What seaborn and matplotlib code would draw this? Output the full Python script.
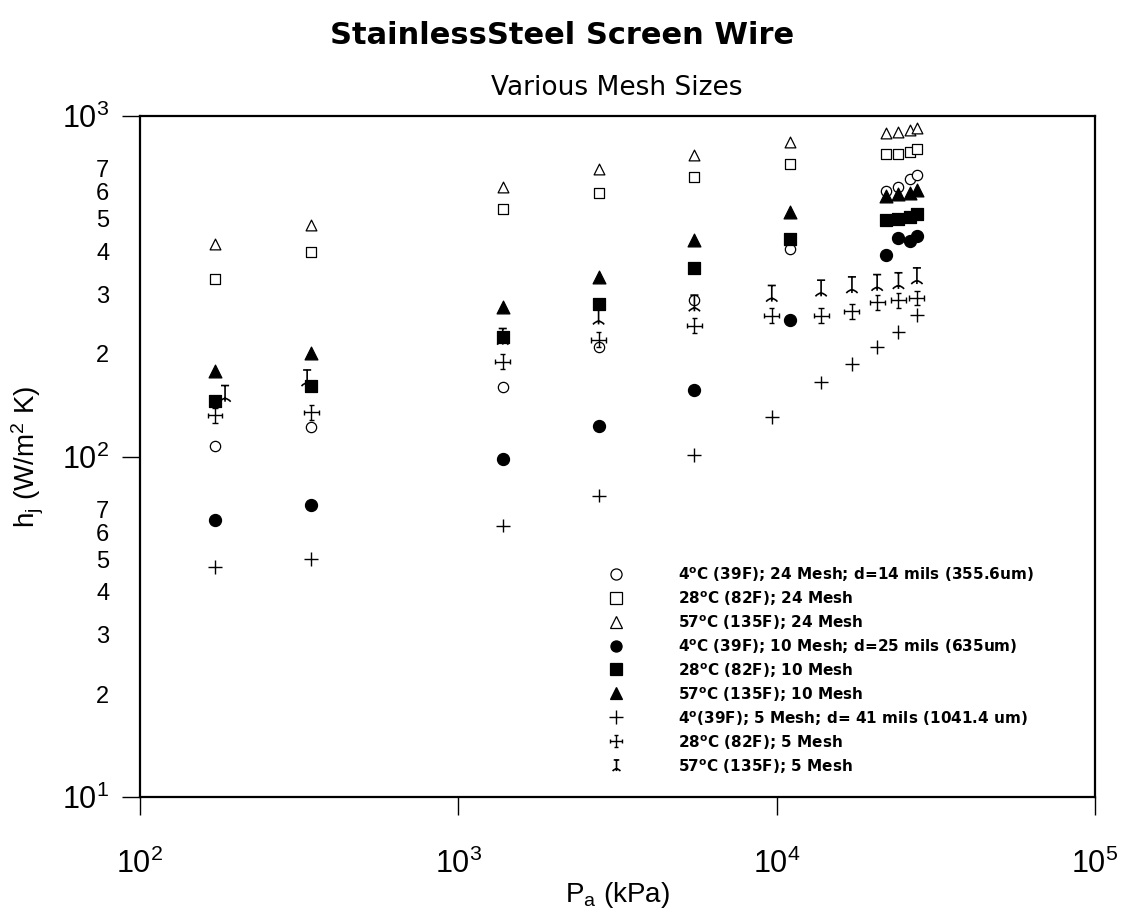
import matplotlib
matplotlib.use("Agg")
import numpy as np
import pandas as pd
import seaborn as sns
import matplotlib.pyplot as plt
from matplotlib.path import Path
from matplotlib.lines import Line2D
from matplotlib.ticker import LogLocator, NullLocator, FuncFormatter, LogFormatterSciNotation

# ---------------- data ----------------
P_24_10 = [172, 345, 1379, 2758, 5516, 11032, 22063, 24132, 26200, 27579]
P_5 = [172, 345, 1379, 2758, 5516, 9653, 13790, 17237, 20684, 24132, 27579]
P_5_57 = [185, 335, 1379, 2758, 5516, 9653, 13790, 17237, 20684, 24132, 27579]

h_24_4C = [107, 122, 160, 210, 288, 407, 603, 618, 653, 671]
h_24_28C = [333, 399, 532, 594, 661, 723, 771, 776, 785, 800]
h_24_57C = [421, 478, 620, 697, 767, 836, 894, 900, 910, 921]
h_10_4C = [65.1, 72.0, 98.3, 123, 157, 252, 391, 439, 428, 443]
h_10_28C = [146, 161, 225, 281, 357, 435, 496, 499, 506, 516]
h_10_57C = [178, 201, 275, 337, 432, 523, 582, 589, 596, 607]
h_5_4C = [47.4, 50.0, 62.7, 76.8, 101, 131, 165, 187, 210, 232, 261]
h_5_28C = [132, 135, 190, 220, 242, 259, 259, 267, 284, 288, 292]
h_5_57C = [153, 170, 225, 258, 282, 301, 312, 319, 324, 328, 339]

labels = [
    r"4$^\mathbf{o}$C (39F); 24 Mesh; d=14 mils (355.6um)",
    r"28$^\mathbf{o}$C (82F); 24 Mesh",
    r"57$^\mathbf{o}$C (135F); 24 Mesh",
    r"4$^\mathbf{o}$C (39F); 10 Mesh; d=25 mils (635um)",
    r"28$^\mathbf{o}$C (82F); 10 Mesh",
    r"57$^\mathbf{o}$C (135F); 10 Mesh",
    r"4$^\mathbf{o}$(39F); 5 Mesh; d= 41 mils (1041.4 um)",
    r"28$^\mathbf{o}$C (82F); 5 Mesh",
    r"57$^\mathbf{o}$C (135F); 5 Mesh",
]

# ---------------- custom markers ----------------
M, L, C3 = Path.MOVETO, Path.LINETO, Path.CURVE3
dc_verts = [(0, -1), (0, 1), (-1, 0), (1, 0),
            (-0.35, 1), (0.35, 1), (-0.35, -1), (0.35, -1),
            (-1, -0.35), (-1, 0.35), (1, -0.35), (1, 0.35)]
double_cross = Path(dc_verts, [M, L] * 6)
ib_verts = [(0, -1), (0, 1), (-0.5, 1), (0.5, 1),
            (-0.7, -1), (0, -0.2), (0.7, -1)]
ibar = Path(ib_verts, [M, L, M, L, M, C3, C3])

series = [
    (P_24_10, h_24_4C, "o", "white", 55, 0.9),
    (P_24_10, h_24_28C, "s", "white", 45, 0.9),
    (P_24_10, h_24_57C, "^", "white", 60, 0.9),
    (P_24_10, h_10_4C, "o", "black", 75, 0.9),
    (P_24_10, h_10_28C, "s", "black", 70, 0.9),
    (P_24_10, h_10_57C, "^", "black", 85, 0.9),
    (P_5, h_5_4C, "+", "none", 100, 1.0),
    (P_5, h_5_28C, double_cross, "none", 115, 1.0),
    (P_5_57, h_5_57C, ibar, "none", 135, 1.2),
]

# ---------------- style ----------------
sns.set_theme(style="white")
plt.rcParams["font.family"] = ["Liberation Sans", "DejaVu Sans"]
plt.rcParams["mathtext.fontset"] = "custom"
plt.rcParams["mathtext.rm"] = "Liberation Sans"
plt.rcParams["mathtext.it"] = "Liberation Sans:italic"
plt.rcParams["mathtext.bf"] = "DejaVu Sans:bold"
for k in ["text.color", "axes.labelcolor", "xtick.color", "ytick.color", "axes.edgecolor"]:
    plt.rcParams[k] = "black"

fig = plt.figure(figsize=(11.24, 9.17), dpi=100)
ax = fig.add_axes([140 / 1124, 1 - 797 / 917, 955 / 1124, 681 / 917])

for x, y, mk, fc, s, lw in series:
    df = pd.DataFrame({"P": x, "h": y})
    sns.scatterplot(data=df, x="P", y="h", marker=mk, s=s, ax=ax, legend=False,
                    color="black")
    coll = ax.collections[-1]
    coll.set_facecolor(fc)
    coll.set_edgecolor("black")
    coll.set_linewidth(lw)

ax.set_xscale("log")
ax.set_yscale("log")
ax.set_xlim(1e2, 1e5)
ax.set_ylim(1e1, 1e3)

ax.xaxis.set_major_locator(LogLocator(base=10, numticks=10))
ax.xaxis.set_minor_locator(NullLocator())
ax.yaxis.set_major_locator(LogLocator(base=10, numticks=10))
ax.yaxis.set_minor_locator(LogLocator(base=10, subs=[2, 3, 4, 5, 6, 7], numticks=10))
ax.yaxis.set_minor_formatter(FuncFormatter(lambda v, p: f"{int(round(v / 10 ** np.floor(np.log10(v) + 1e-9)))}"))
ax.xaxis.set_major_formatter(LogFormatterSciNotation())
ax.yaxis.set_major_formatter(LogFormatterSciNotation())

ax.tick_params(axis="both", which="major", direction="out", length=13, width=1,
               color="black", labelsize=22, bottom=True, left=True)
ax.tick_params(axis="x", which="major", pad=24)
ax.tick_params(axis="y", which="major", pad=9)
ax.tick_params(axis="y", which="minor", length=0, labelsize=17, pad=22, left=True)

for sp in ax.spines.values():
    sp.set_visible(True)
    sp.set_color("black")
    sp.set_linewidth(1.6)

ax.set_xlabel(r"P$_\mathregular{a}$ (kPa)", fontsize=20, labelpad=0)
ax.set_ylabel(r"h$_\mathregular{j}$ (W/m$^\mathregular{2}$ K)", fontsize=20, labelpad=12)

fig.text(0.5, 1 - 36 / 917, "StainlessSteel Screen Wire", ha="center", va="center",
         fontsize=22, fontweight="bold", family="DejaVu Sans")
fig.text(617 / 1124, 1 - 88 / 917, "Various Mesh Sizes", ha="center", va="center",
         fontsize=19, family="DejaVu Sans")

handles = []
for (x, y, mk, fc, s, lw), lab in zip(series, labels):
    handles.append(Line2D([], [], linestyle="none", marker=mk, markersize=8 if mk != "+" else 10,
                          markerfacecolor=fc, markeredgecolor="black", markeredgewidth=lw, color="black"))
leg = ax.legend(handles, labels, loc="upper left", bbox_to_anchor=((608 - 140) / 955, (797 - 565) / 681),
                frameon=False, handlelength=1.0, handletextpad=3.6, labelspacing=0.39,
                borderpad=0, borderaxespad=0,
                prop={"family": "DejaVu Sans", "weight": "bold", "size": 11})

fig.savefig("out.png", dpi=100, facecolor="white")
